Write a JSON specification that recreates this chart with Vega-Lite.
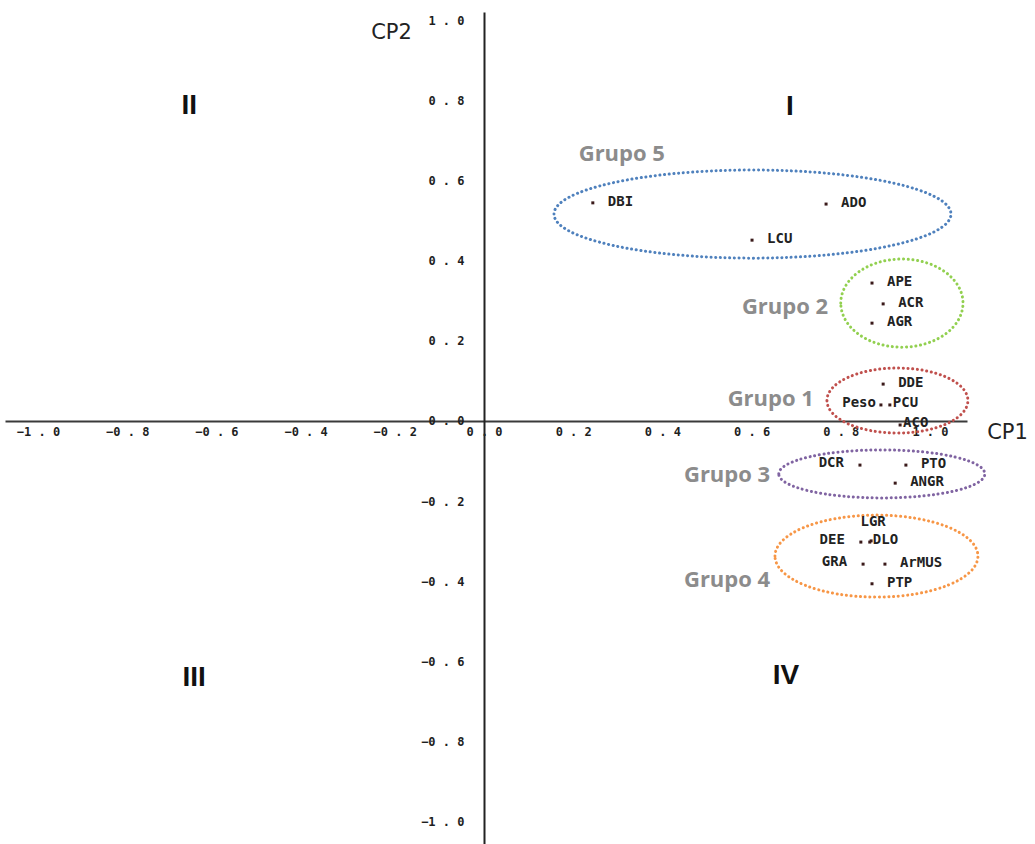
{
  "$schema": "https://vega.github.io/schema/vega-lite/v6.json",
  "width": 962,
  "height": 832,
  "autosize": {"type": "none"},
  "padding": {"left": 5, "top": 12, "right": 68, "bottom": 0},
  "background": "white",
  "config": {"view": {"stroke": null}},
  "datasets": {
    "variables": [
      {"var": "DBI", "x": 0.244, "y": 0.544},
      {"var": "ADO", "x": 0.767, "y": 0.541},
      {"var": "LCU", "x": 0.601, "y": 0.451},
      {"var": "APE", "x": 0.870, "y": 0.344},
      {"var": "ACR", "x": 0.895, "y": 0.292},
      {"var": "AGR", "x": 0.870, "y": 0.244},
      {"var": "DDE", "x": 0.895, "y": 0.092},
      {"var": "Peso", "x": 0.890, "y": 0.040},
      {"var": "PCU", "x": 0.910, "y": 0.040},
      {"var": "ACO", "x": 0.933, "y": -0.010},
      {"var": "DCR", "x": 0.843, "y": -0.110},
      {"var": "PTO", "x": 0.946, "y": -0.110},
      {"var": "ANGR", "x": 0.922, "y": -0.155},
      {"var": "LGR", "x": 0.868, "y": -0.299},
      {"var": "DEE", "x": 0.845, "y": -0.302},
      {"var": "DLO", "x": 0.865, "y": -0.302},
      {"var": "GRA", "x": 0.850, "y": -0.357},
      {"var": "ArMUS", "x": 0.899, "y": -0.357},
      {"var": "PTP", "x": 0.870, "y": -0.406}
    ],
    "elipses": [
      {"grupo": "Grupo 1", "x": 0.927, "y": 0.051, "ancho": 0.316},
      {"grupo": "Grupo 2", "x": 0.937, "y": 0.294, "ancho": 0.274},
      {"grupo": "Grupo 3", "x": 0.892, "y": -0.132, "ancho": 0.462},
      {"grupo": "Grupo 4", "x": 0.880, "y": -0.337, "ancho": 0.455},
      {"grupo": "Grupo 5", "x": 0.602, "y": 0.516, "ancho": 0.890}
    ],
    "grupos": [
      {"nombre": "Grupo 5", "x": 0.309, "y": 0.666},
      {"nombre": "Grupo 2", "x": 0.675, "y": 0.284},
      {"nombre": "Grupo 1", "x": 0.643, "y": 0.055},
      {"nombre": "Grupo 3", "x": 0.545, "y": -0.135},
      {"nombre": "Grupo 4", "x": 0.545, "y": -0.397}
    ],
    "cuadrantes": [
      {"nombre": "I", "x": 0.686, "y": 0.783},
      {"nombre": "II", "x": -0.661, "y": 0.786},
      {"nombre": "III", "x": -0.650, "y": -0.641},
      {"nombre": "IV", "x": 0.677, "y": -0.636}
    ]
  },
  "encoding": {
    "x": {
      "field": "x",
      "type": "quantitative",
      "scale": {"domain": [-1.074, 1.083], "nice": false, "zero": false},
      "axis": {
        "title": "CP1",
        "values": [-1, -0.8, -0.6, -0.4, -0.2, 0, 0.2, 0.4, 0.6, 0.8, 1],
        "format": ".1f",
        "labelExpr": "replace(datum.label, '.', ' . ')",
        "offset": -423,
        "grid": false,
        "ticks": false,
        "tickSize": 0,
        "labelPadding": 5,
        "labelFont": "DejaVu Sans Mono",
        "labelFontSize": 12,
        "labelFontWeight": "bold",
        "labelColor": "#1e1e1e",
        "labelFlush": false,
        "labelOverlap": false,
        "domainColor": "#3a3a3a",
        "domainWidth": 2,
        "titleX": 1002,
        "titleY": 11,
        "titleAlign": "center",
        "titleBaseline": "middle",
        "titleAngle": 0,
        "titleFont": "DejaVu Sans",
        "titleFontSize": 21,
        "titleFontWeight": "normal",
        "titleColor": "#222222"
      }
    },
    "y": {
      "field": "y",
      "type": "quantitative",
      "scale": {"domain": [-1.055, 1.02], "nice": false, "zero": false},
      "axis": {
        "title": "CP2",
        "values": [-1, -0.8, -0.6, -0.4, -0.2, 0, 0.2, 0.4, 0.6, 0.8, 1],
        "format": ".1f",
        "labelExpr": "replace(datum.label, '.', ' . ')",
        "offset": -479,
        "grid": false,
        "ticks": false,
        "tickSize": 0,
        "labelPadding": 20,
        "labelFont": "DejaVu Sans Mono",
        "labelFontSize": 12,
        "labelFontWeight": "bold",
        "labelColor": "#1e1e1e",
        "labelFlush": false,
        "labelOverlap": false,
        "domainColor": "#222222",
        "domainWidth": 2,
        "titleX": -93,
        "titleY": 20,
        "titleAlign": "center",
        "titleBaseline": "middle",
        "titleAngle": 0,
        "titleFont": "DejaVu Sans",
        "titleFontSize": 21,
        "titleFontWeight": "normal",
        "titleColor": "#222222"
      }
    }
  },
  "layer": [
    {
      "data": {"name": "elipses"},
      "mark": {"type": "point", "filled": false, "strokeWidth": 3, "strokeDash": [0.1, 4.6], "strokeCap": "round", "opacity": 1},
      "encoding": {
        "shape": {
          "field": "grupo", "type": "nominal", "legend": null,
          "scale": {
            "domain": ["Grupo 1", "Grupo 2", "Grupo 3", "Grupo 4", "Grupo 5"],
            "range": [
              "M -1 0 C -1 -0.2546 -0.5523 -0.461 0 -0.461 C 0.5523 -0.461 1 -0.2546 1 0 C 1 0.2546 0.5523 0.461 0 0.461 C -0.5523 0.461 -1 0.2546 -1 0 Z",
              "M -1 0 C -1 -0.3982 -0.5523 -0.721 0 -0.721 C 0.5523 -0.721 1 -0.3982 1 0 C 1 0.3982 0.5523 0.721 0 0.721 C -0.5523 0.721 -1 0.3982 -1 0 Z",
              "M -1 0 C -1 -0.1287 -0.5523 -0.233 0 -0.233 C 0.5523 -0.233 1 -0.1287 1 0 C 1 0.1287 0.5523 0.233 0 0.233 C -0.5523 0.233 -1 0.1287 -1 0 Z",
              "M -1 0 C -1 -0.2231 -0.5523 -0.404 0 -0.404 C 0.5523 -0.404 1 -0.2231 1 0 C 1 0.2231 0.5523 0.404 0 0.404 C -0.5523 0.404 -1 0.2231 -1 0 Z",
              "M -1 0 C -1 -0.1226 -0.5523 -0.222 0 -0.222 C 0.5523 -0.222 1 -0.1226 1 0 C 1 0.1226 0.5523 0.222 0 0.222 C -0.5523 0.222 -1 0.1226 -1 0 Z"
            ]
          }
        },
        "stroke": {
          "field": "grupo", "type": "nominal", "legend": null,
          "scale": {
            "domain": ["Grupo 1", "Grupo 2", "Grupo 3", "Grupo 4", "Grupo 5"],
            "range": ["#C0504D", "#92D050", "#8064A2", "#F79646", "#4F81BD"]
          }
        },
        "size": {
          "field": "ancho", "type": "quantitative", "legend": null,
          "scale": {"type": "pow", "exponent": 2, "domain": [0, 1], "range": [0, 198916]}
        }
      }
    },
    {
      "data": {"name": "variables"},
      "mark": {"type": "square", "size": 9, "color": "#3a1a1a", "opacity": 1}
    },
    {
      "data": {"name": "variables"},
      "transform": [{"filter": {"field": "var", "oneOf": ["DBI", "ADO", "LCU", "APE", "ACR", "AGR", "DDE", "PTO", "ANGR", "ArMUS", "PTP"]}}],
      "mark": {"type": "text", "align": "left", "baseline": "middle", "dx": 15, "dy": -1, "font": "DejaVu Sans Mono", "fontSize": 14, "fontWeight": "bold", "color": "#222222"},
      "encoding": {"text": {"field": "var", "type": "nominal"}}
    },
    {
      "data": {"name": "variables"},
      "transform": [{"filter": {"field": "var", "oneOf": ["PCU", "ACO", "DLO"]}}],
      "mark": {"type": "text", "align": "left", "baseline": "middle", "dx": 3, "dy": -2, "font": "DejaVu Sans Mono", "fontSize": 14, "fontWeight": "bold", "color": "#222222"},
      "encoding": {"text": {"field": "var", "type": "nominal"}}
    },
    {
      "data": {"name": "variables"},
      "transform": [{"filter": {"field": "var", "oneOf": ["DCR", "DEE", "GRA"]}}],
      "mark": {"type": "text", "align": "right", "baseline": "middle", "dx": -16, "dy": -2, "font": "DejaVu Sans Mono", "fontSize": 14, "fontWeight": "bold", "color": "#222222"},
      "encoding": {"text": {"field": "var", "type": "nominal"}}
    },
    {
      "data": {"name": "variables"},
      "transform": [{"filter": {"field": "var", "oneOf": ["Peso"]}}],
      "mark": {"type": "text", "align": "right", "baseline": "middle", "dx": -5, "dy": -2, "font": "DejaVu Sans Mono", "fontSize": 14, "fontWeight": "bold", "color": "#222222"},
      "encoding": {"text": {"field": "var", "type": "nominal"}}
    },
    {
      "data": {"name": "variables"},
      "transform": [{"filter": {"field": "var", "oneOf": ["LGR"]}}],
      "mark": {"type": "text", "align": "center", "baseline": "middle", "dx": 2, "dy": -19, "font": "DejaVu Sans Mono", "fontSize": 14, "fontWeight": "bold", "color": "#222222"},
      "encoding": {"text": {"field": "var", "type": "nominal"}}
    },
    {
      "data": {"name": "grupos"},
      "mark": {"type": "text", "align": "center", "baseline": "middle", "font": "Open Sans", "fontSize": 22, "fontWeight": "bold", "color": "#8c8c8c"},
      "encoding": {"text": {"field": "nombre", "type": "nominal"}}
    },
    {
      "data": {"name": "cuadrantes"},
      "mark": {"type": "text", "align": "center", "baseline": "middle", "font": "Liberation Sans", "fontSize": 28, "fontWeight": "bold", "color": "#111111"},
      "encoding": {"text": {"field": "nombre", "type": "nominal"}}
    }
  ]
}
